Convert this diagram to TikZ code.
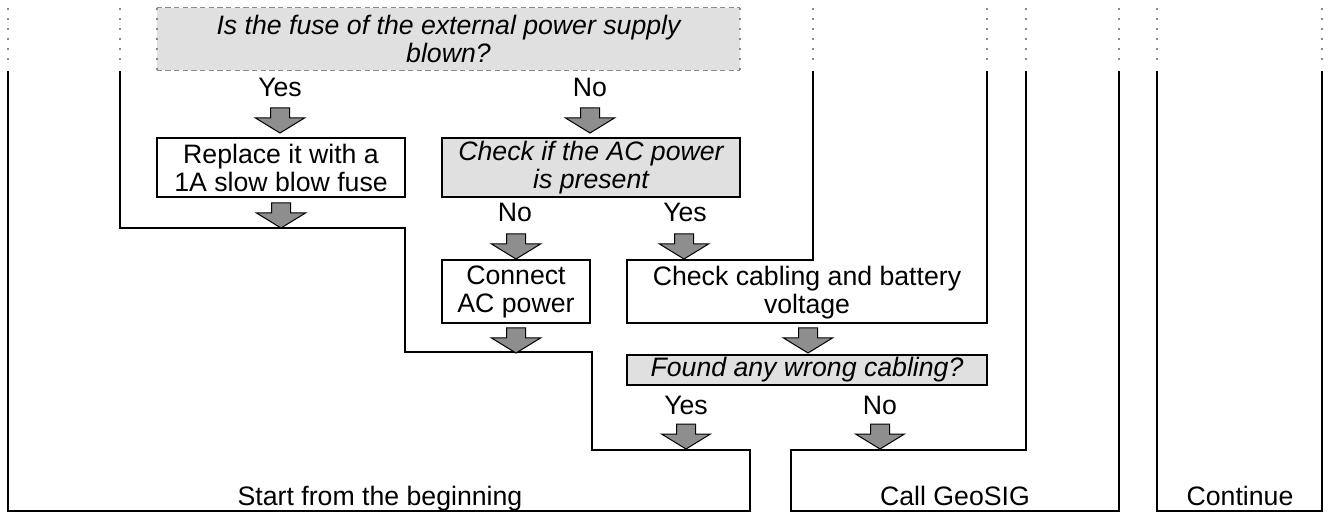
\documentclass[tikz,border=0pt]{standalone}
\usepackage{fontspec}
\setmainfont{Liberation Sans}
\definecolor{boxgray}{HTML}{E0E0E0}
\definecolor{arrowgray}{HTML}{8E8E8E}
\definecolor{dotgray}{HTML}{8A8A8A}
\tikzset{
  wire/.style={line width=1.5pt, line join=miter, line cap=rect},
  dotline/.style={dotgray, line width=1.5pt, dash pattern=on 1.5pt off 6pt},
  plainbox/.style={draw, line width=1.5pt, fill=white, inner sep=0pt, align=center},
  greybox/.style={plainbox, fill=boxgray, font=\fontsize{20}{21}\selectfont\itshape},
  lbl/.style={inner sep=0pt, align=center},
  pics/downarrow/.style={code={
    \draw[fill=arrowgray, line width=0.75pt, line join=miter]
      (-9.5,0) -- (9.5,0) -- (9.5,10) -- (24.5,10) -- (0,25) -- (-24.5,10) -- (-9.5,10) -- cycle;
  }}
}
\begin{document}
\begin{tikzpicture}[x=0.75pt, y=-0.75pt, font=\fontsize{20}{21}\selectfont]
\useasboundingbox (0,0) rectangle (1328,513);

% continuation dots from previous part
\foreach \xx in {8,120,813,987,1026,1119,1157,1322}
  \draw[dotline] (\xx,8) -- (\xx,64);

% question box (cut from previous part)
\node[fill=boxgray, minimum width=437.25pt, minimum height=46.5pt, inner sep=0pt,
      align=center, font=\fontsize{20}{21}\selectfont\itshape] (q) at (448.5,39)
  {Is the fuse of the external power supply\\blown?};
\draw[dotgray, line width=0.75pt, dash pattern=on 4pt off 2.5pt] (q.north west) -- (q.north east);
\draw[dotgray, line width=0.75pt, dash pattern=on 4pt off 2.5pt] (q.south west) -- (q.south east);
\draw[dotline] (q.north west) -- (q.south west);
\draw[dotline] (q.north east) -- (q.south east);

% outline shapes
\draw[wire] (120,72) -- (120,228) -- (405,228) -- (405,352) -- (592,352) -- (592,450)
  -- (750,450) -- (750,511) -- (8,511) -- (8,72);
\draw[wire] (813,72) -- (813,260) -- (627,260) -- (627,323) -- (987,323) -- (987,72);
\draw[wire] (1026,72) -- (1026,450) -- (791,450) -- (791,511) -- (1119,511) -- (1119,72);
\draw[wire] (1157,72) -- (1157,511) -- (1322,511) -- (1322,72);

% boxes
\node[plainbox, minimum width=186pt, minimum height=44.25pt] (replace) at (281,167.5)
  {Replace it with a\\1A slow blow fuse};
\node[greybox, minimum width=223.5pt, minimum height=44.25pt] (checkac) at (591,167.5)
  {Check if the AC power\\is present};
\node[plainbox, minimum width=111pt, minimum height=47.25pt] (connect) at (516,291.5)
  {Connect\\AC power};
\node[lbl] (cabling) at (807,293) {Check cabling and battery\\voltage};
\node[greybox, minimum width=270pt, minimum height=22.5pt] (found) at (807,370)
  {Found any wrong cabling?};

% labels
\node[lbl] (yes1) at (280,87) {Yes};
\node[lbl] (no1) at (590,87) {No};
\node[lbl] (no2) at (515,212) {No};
\node[lbl] (yes2) at (685,212) {Yes};
\node[lbl] (yes3) at (686,405) {Yes};
\node[lbl] (no3) at (880,405) {No};

\node[lbl, anchor=base] (restart) at (380,505) {Start from the beginning};
\node[lbl, anchor=base] (call) at (955,505) {Call GeoSIG};
\node[lbl, anchor=base] (cont) at (1240,505) {Continue};

% block arrows
\pic at (280,108) {downarrow};
\pic at (590,108) {downarrow};
\pic at (281,203) {downarrow};
\pic at (516,234) {downarrow};
\pic at (684,234) {downarrow};
\pic at (516,328) {downarrow};
\pic at (808,328) {downarrow};
\pic at (686,424) {downarrow};
\pic at (880,424) {downarrow};
\end{tikzpicture}
\end{document}
